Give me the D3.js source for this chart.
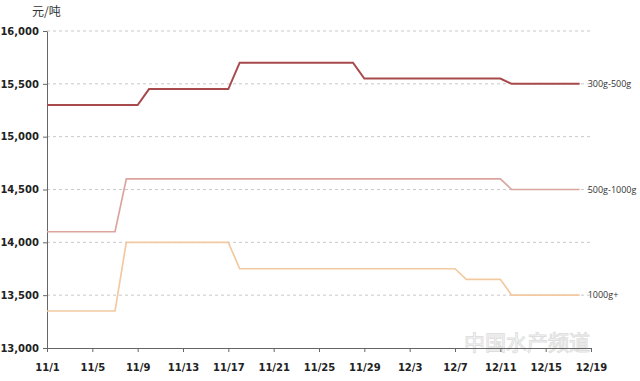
<!DOCTYPE html>
<html><head><meta charset="utf-8">
<script src="https://cdn.jsdelivr.net/npm/d3@7"></script>
<style>body{margin:0;background:#fff;}svg{display:block;}</style>
</head><body>
<svg id="c" width="640" height="381"></svg>
<script>
// Data (day offsets from 11/1)
const dates = d3.range(0, 48).map(i => new Date(2017, 10, 1 + i)); // 11/1 .. 12/18
// breakpoints: [day offset, price]
const s300pts = [[0,15300],[8,15300],[9,15450],[16,15450],[17,15700],[27,15700],[28,15550],[40,15550],[41,15500],[47,15500]];
const s500pts = [[0,14100],[6,14100],[7,14600],[40,14600],[41,14500],[47,14500]];
const s1000pts = [[0,13350],[6,13350],[7,14000],[16,14000],[17,13750],[36,13750],[37,13650],[40,13650],[41,13500],[47,13500]];
const seriesNames = ["300g-500g", "500g-1000g", "1000g+"];
const seriesColors = ["#a84a4c", "#dba59e", "#f2c9a0"];
const yTicks = [13000, 13500, 14000, 14500, 15000, 15500, 16000];
const xTickLabels = ["11/1","11/5","11/9","11/13","11/17","11/21","11/25","11/29","12/3","12/7","12/11","12/15","12/19"];

const seriesPts = [s300pts, s500pts, s1000pts];

const svg = d3.select("#c");
const x0 = 47, x1 = 591, yTop = 31, yBot = 348;
const x = d3.scaleTime().domain([new Date(2017,10,1), new Date(2017,11,19)]).range([x0, x1]);
const y = d3.scaleLinear().domain([13000, 16000]).range([yBot, yTop]);

// grid
svg.append("g").selectAll("line").data(yTicks.filter(d => d > 13000)).join("line")
  .attr("x1", x0).attr("x2", x1).attr("y1", d => y(d)).attr("y2", d => y(d))
  .attr("stroke", "#c8c8c8").attr("stroke-width", 1).attr("stroke-dasharray", "3,3");

// watermark (behind axes)
svg.append("text").attr("x", 464).attr("y", 350).attr("font-family", "Noto Sans CJK SC")
  .attr("font-size", 21).attr("fill", "none").attr("stroke", "#d8d8d8").attr("stroke-width", 1)
  .attr("opacity", 0.8).text("中国水产频道");

// y axis
const ya = svg.append("g").attr("transform", `translate(${x0},0)`)
  .call(d3.axisLeft(y).tickValues(yTicks).tickFormat(d3.format(",")).tickSize(4).tickSizeOuter(0));
ya.select(".domain").attr("stroke", "#666");
ya.selectAll(".tick line").attr("stroke", "#666");
ya.selectAll("text").attr("font-family", "DejaVu Sans").attr("font-weight", "bold")
  .attr("font-size", 10).attr("fill", "#222").attr("x", -8);

// x axis
const tickDates = xTickLabels.map((t, i) => new Date(2017, 10, 1 + 4 * i));
const xa = svg.append("g").attr("transform", `translate(0,${yBot})`)
  .call(d3.axisBottom(x).tickValues(tickDates).tickFormat((d, i) => xTickLabels[i]).tickSize(4).tickSizeOuter(0));
xa.select(".domain").attr("stroke", "#666");
xa.selectAll(".tick line").attr("stroke", "#666");
xa.selectAll("text").attr("font-family", "DejaVu Sans").attr("font-weight", "bold")
  .attr("font-size", 10).attr("fill", "#222").attr("dy", "1.6em");

// lines
const line = d3.line().x(d => x(dates[d[0]])).y(d => y(d[1]));
seriesPts.forEach((pts, i) => {
  svg.append("path").datum(pts).attr("d", line).attr("fill", "none")
    .attr("stroke", seriesColors[i]).attr("stroke-width", i === 0 ? 2 : 1.7);
  const last = pts[pts.length - 1];
  svg.append("text").attr("x", x(dates[last[0]]) + 8).attr("y", y(last[1]) + 3)
    .attr("font-family", "Open Sans").attr("font-size", 9).attr("fill", "#333")
    .text(seriesNames[i]);
});

// unit
svg.append("text").attr("x", 32).attr("y", 16).attr("font-family", "Noto Sans CJK SC")
  .attr("font-size", 12).attr("fill", "#333").text("元/吨");
</script>
</body></html>
